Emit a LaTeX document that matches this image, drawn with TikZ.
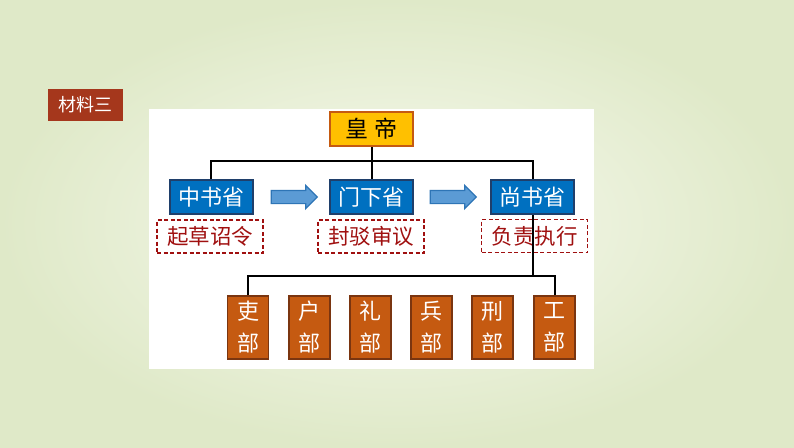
\documentclass[tikz,border=0pt]{standalone}
\usepackage{fontspec}
\newfontfamily\cjk{Noto Sans CJK SC}
\usepackage{tikz}
\usetikzlibrary{shapes, shapes.arrows, arrows.meta, positioning, calc}

\definecolor{bgouter}{HTML}{DFE9C8}
\definecolor{bginner}{HTML}{F8FAF0}
\definecolor{tagred}{HTML}{A5371C}
\definecolor{govblue}{HTML}{0070C0}
\definecolor{govedge}{HTML}{1F3F6B}
\definecolor{kinggold}{HTML}{FFC000}
\definecolor{kingedge}{HTML}{C55A11}
\definecolor{buorange}{HTML}{C55A11}
\definecolor{buedge}{HTML}{7A3510}
\definecolor{dutyred}{HTML}{A01010}
\definecolor{arrowfill}{HTML}{5B9BD5}
\definecolor{arrowedge}{HTML}{2E75B6}

\begin{document}
\begin{tikzpicture}[x=1pt, y=-1pt,
    tagbox/.style={rectangle, fill=tagred, text=white, minimum width=75pt, minimum height=32pt, inner sep=0pt, font=\cjk\fontsize{18}{18}\selectfont},
    kingbox/.style={rectangle, draw=kingedge, line width=2pt, fill=kinggold, minimum width=83pt, minimum height=34pt, inner sep=0pt, font=\cjk\fontsize{23}{23}\selectfont},
    govbox/.style={rectangle, draw=govedge, line width=2pt, fill=govblue, text=white, minimum width=83pt, minimum height=34pt, inner sep=0pt, font=\cjk\fontsize{22}{22}\selectfont},
    dutybox/.style={rectangle, draw=dutyred, dash pattern=on 4pt off 2.5pt, line width=1.6pt, text=dutyred, minimum width=106pt, minimum height=33pt, inner sep=0pt, font=\cjk\fontsize{21.5}{21.5}\selectfont},
    bubox/.style={rectangle, draw=buedge, line width=1.5pt, fill=buorange, text=white, minimum width=41pt, minimum height=63pt, inner sep=0pt, align=center, font=\cjk\fontsize{22}{32}\selectfont},
    flow/.style={single arrow, draw=arrowedge, line width=1.2pt, fill=arrowfill, minimum height=46pt, inner sep=6pt, single arrow head extend=5pt},
    link/.style={line width=2pt, black},
  ]

    % Background
    \shade[inner color=bginner, outer color=bgouter] (0,0) rectangle (794,447);
    \fill[white] (149,109) rectangle (594,369);
    \useasboundingbox (0,0) rectangle (794,447);

    % Tag
    \node[tagbox] (tag) at (85.5,105) {材料三};

    % Emperor
    \node[kingbox] (king) at (371.5,129) {皇\hspace{0.3em}帝};

    % Three departments
    \node[govbox] (zhongshu) at (211,197) {中书省};
    \node[govbox] (menxia) at (371.5,197) {门下省};
    \node[govbox] (shangshu) at (532.5,197) {尚书省};

    \node[flow] (flowa) at (291,197) {};
    \node[flow] (flowb) at (450,197) {};

    % Duties
    \node[dutybox] (dutya) at (210,236.5) {起草诏令};
    \node[dutybox] (dutyb) at (371,236.5) {封驳审议};
    \node[dutybox] (dutyc) at (534.5,236) {负责执行};

    % Six ministries
    \foreach \i/\x/\name in {1/248/吏, 2/309.5/户, 3/370.5/礼, 4/431.5/兵, 5/492.5/刑, 6/554.5/工} {
      \node[bubox] (bu\i) at (\x,327.5) {\name\\部};
    }

    % Links
    \coordinate (topbus) at (0,161);
    \coordinate (botbus) at (0,276);
    \draw[link] (king.south) -- (menxia.north);
    \draw[link] (zhongshu.north) -- (zhongshu.north |- topbus) -- (shangshu.north |- topbus) -- (shangshu.north);
    \draw[link] (shangshu.south) -- (shangshu.south |- botbus);
    \draw[link] (bu1.north) -- (bu1.north |- botbus) -- (bu6.north |- botbus) -- (bu6.north);

\end{tikzpicture}
\end{document}
